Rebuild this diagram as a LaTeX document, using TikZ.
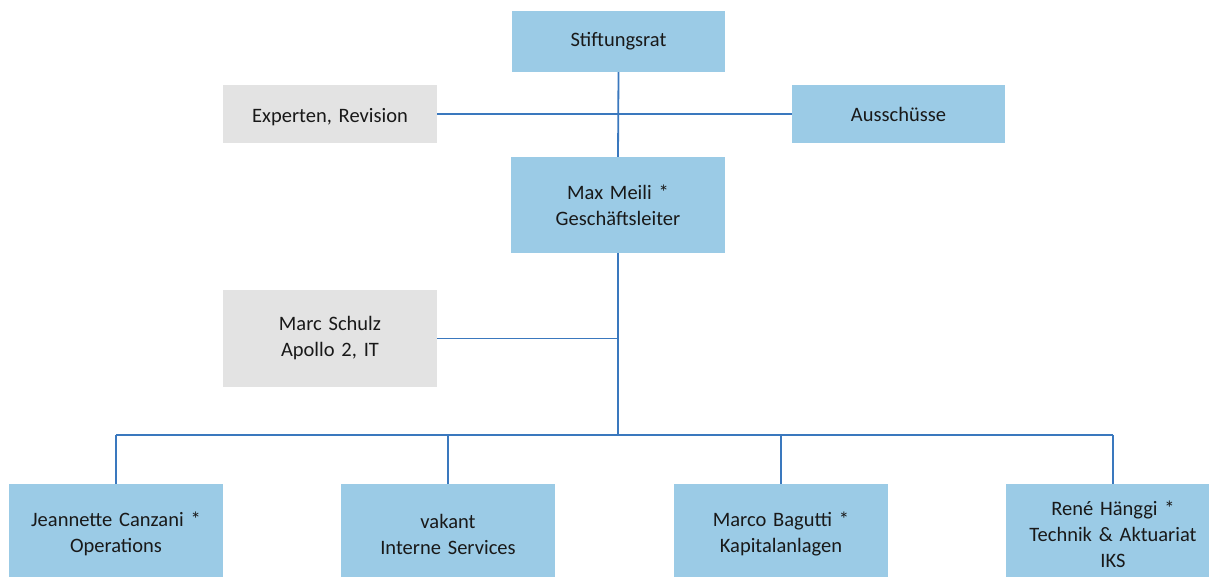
\documentclass[tikz,border=0pt]{standalone}
\usepackage{fontspec}
\setmainfont[WordSpace=0.8]{Carlito}
\definecolor{boxblue}{HTML}{9BCBE6}
\definecolor{boxgrey}{HTML}{E3E3E3}
\definecolor{linkblue}{HTML}{3A78BE}
\begin{document}
\begin{tikzpicture}[x=1pt,y=-1pt,
  base/.style={rectangle,inner sep=0pt,align=center,text width=212pt,
    font=\fontsize{20.5}{26}\selectfont,text=black!90},
  bluebox/.style={base,fill=boxblue},
  greybox/.style={base,fill=boxgrey},
  link/.style={draw=linkblue,line width=1.8pt}]
\useasboundingbox (0,0) rectangle (1209,576);
\clip (0,0) rectangle (1209,576);
\node[bluebox,minimum width=213pt,minimum height=61pt] (stift) at (618.5,41.5) {Stiftungsrat};
\node[greybox,minimum width=214pt,minimum height=58pt] (exp) at (330,114) {\raisebox{-3pt}[\height][\depth]{Experten, Revision}};
\node[bluebox,minimum width=213pt,minimum height=58pt] (aus) at (898.5,114) {Ausschüsse};
\node[bluebox,minimum width=214pt,minimum height=96pt] (max) at (618,205) {Max Meili *\\Geschäftsleiter};
\node[greybox,minimum width=214pt,minimum height=97pt] (marc) at (330,338.5) {Marc Schulz\\Apollo 2, IT};
\node[bluebox,minimum width=214pt,minimum height=100pt] (jea) at (116,534) {Jeannette Canzani *\\Operations};
\node[bluebox,minimum width=214pt,minimum height=100pt] (vak) at (448,534) {vakant\\Interne Services};
\node[bluebox,minimum width=214pt,minimum height=100pt] (mar) at (781,534) {Marco Bagutti *\\Kapitalanlagen};
\node[bluebox,minimum width=214pt,minimum height=100pt] (ren) at (1113,534) {René Hänggi *\\Technik \& Aktuariat\\IKS};
\coordinate (busmid) at (618,435);
\coordinate (busl) at (116,435);
\coordinate (busr) at (1113,435);
\draw[link] (stift.south) -- (max.north);
\draw[link] (exp.east) -- (aus.west);
\draw[link] (max.south) -- (busmid);
\draw[link] (marc.east) -- (marc.east -| max.south);
\draw[link] (busl) -- (busr);
\draw[link] (busl) -- (jea.north);
\draw[link] (vak.north |- busmid) -- (vak.north);
\draw[link] (mar.north |- busmid) -- (mar.north);
\draw[link] (busr) -- (ren.north);
\end{tikzpicture}
\end{document}
